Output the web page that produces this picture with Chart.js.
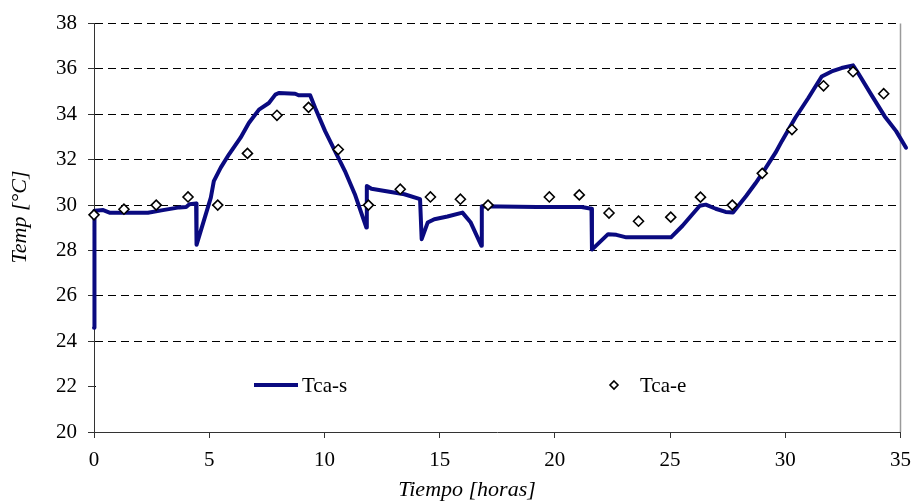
<!DOCTYPE html>
<html>
<head>
<meta charset="utf-8">
<script src="https://cdn.jsdelivr.net/npm/chart.js@4/dist/chart.umd.min.js"></script>
<style>
  html, body { margin: 0; padding: 0; background: #ffffff; }
  #wrap { width: 921px; height: 502px; position: relative; }
</style>
</head>
<body>
<div id="wrap"><canvas id="c" width="921" height="502"></canvas></div>
<script>
// Tca-s: simulated outlet temperature (continuous trace)
const hoursS = [0, 0.02, 0.4, 0.7, 2.34, 2.99, 3.7, 4.0, 4.14, 4.43, 4.45, 5.07, 5.2, 5.5, 5.86, 6.36, 6.72, 7.16, 7.59, 7.87, 8.02, 8.73, 8.88, 9.38, 9.6, 10.03, 10.46, 10.89, 11.32, 11.82, 11.84, 12.04, 13.47, 14.15, 14.22, 14.48, 14.77, 15.34, 15.99, 16.35, 16.81, 16.83, 19.22, 21.16, 21.59, 21.61, 22.31, 22.67, 23.1, 25.04, 25.54, 25.97, 26.29, 26.55, 26.98, 27.41, 27.73, 28.3, 28.7, 29.0, 29.57, 29.85, 30.43, 31.0, 31.58, 32.01, 32.44, 32.94, 33.16, 33.73, 34.31, 34.81, 35.24];
const tempS  = [24.6, 29.75, 29.78, 29.66, 29.66, 29.78, 29.9, 29.92, 30.04, 30.07, 28.25, 30.33, 31.06, 31.65, 32.24, 32.97, 33.62, 34.21, 34.5, 34.87, 34.94, 34.91, 34.84, 34.84, 34.28, 33.26, 32.38, 31.5, 30.48, 29.01, 30.84, 30.72, 30.48, 30.26, 28.5, 29.23, 29.38, 29.5, 29.67, 29.23, 28.21, 29.95, 29.92, 29.92, 29.84, 28.04, 28.72, 28.69, 28.58, 28.58, 29.09, 29.6, 29.97, 30.02, 29.84, 29.7, 29.67, 30.4, 30.95, 31.4, 32.3, 32.82, 33.84, 34.72, 35.67, 35.89, 36.04, 36.16, 35.82, 34.87, 33.92, 33.26, 32.53];

// Tca-e: measured values (markers)
const hoursE = [0, 1.3, 2.7, 4.08, 5.37, 6.66, 7.94, 9.31, 10.6, 11.91, 13.29, 14.6, 15.9, 17.1, 19.76, 21.06, 22.35, 23.63, 25.03, 26.32, 27.7, 29.0, 30.29, 31.66, 32.94, 34.27];
const tempE  = [29.57, 29.82, 30.0, 30.36, 30.0, 32.28, 33.96, 34.31, 32.45, 30.0, 30.7, 30.36, 30.26, 30.0, 30.36, 30.45, 29.65, 29.29, 29.47, 30.35, 30.0, 31.4, 33.33, 35.26, 35.88, 34.91];

const seriesNames = ['Tca-s', 'Tca-e'];
const xTitle = 'Tiempo [horas]';
const yTitle = 'Temp [\u00B0C]';

const SERIF = '"Liberation Serif", "Times New Roman", serif';
const NAVY = '#0a0a80';

const lineData = hoursS.map((h, i) => ({ x: h, y: tempS[i] }));
const markData = hoursE.map((h, i) => ({ x: h, y: tempE[i] }));

// Axis titles, right frame edge and the in-plot legend
const decorations = {
  id: 'decorations',
  beforeDatasetsDraw(chart) {
    const { ctx, chartArea: a } = chart;
    ctx.save();
    // legend box background hides the grid line behind it
    ctx.fillStyle = '#fff';
    ctx.fillRect(a.left + 2, 372, a.right - a.left - 4, 27);
    ctx.strokeStyle = '#9a9a9a';
    ctx.lineWidth = 1.5;
    ctx.beginPath();
    ctx.moveTo(a.right, a.top);
    ctx.lineTo(a.right, a.bottom);
    ctx.stroke();
    ctx.restore();
  },
  afterDraw(chart) {
    const { ctx } = chart;
    ctx.save();
    ctx.fillStyle = '#000';
    ctx.font = 'italic 22px ' + SERIF;
    ctx.textAlign = 'center';
    ctx.textBaseline = 'middle';
    ctx.fillText(xTitle, 467, 490);
    ctx.translate(20, 217);
    ctx.rotate(-Math.PI / 2);
    ctx.fillText(yTitle, 0, 0);
    ctx.restore();

    // legend
    const ly = 385;
    ctx.save();
    ctx.strokeStyle = NAVY;
    ctx.lineWidth = 4;
    ctx.beginPath();
    ctx.moveTo(254, ly);
    ctx.lineTo(298, ly);
    ctx.stroke();
    ctx.fillStyle = '#000';
    ctx.font = '21px ' + SERIF;
    ctx.textAlign = 'left';
    ctx.textBaseline = 'middle';
    ctx.fillText(seriesNames[0], 302, ly + 1);
    ctx.beginPath();
    ctx.moveTo(614, ly - 4);
    ctx.lineTo(618, ly);
    ctx.lineTo(614, ly + 4);
    ctx.lineTo(610, ly);
    ctx.closePath();
    ctx.fillStyle = '#fff';
    ctx.fill();
    ctx.lineWidth = 1.6;
    ctx.strokeStyle = '#000';
    ctx.stroke();
    ctx.fillStyle = '#000';
    ctx.fillText(seriesNames[1], 640, ly + 1);
    ctx.restore();
  }
};

new Chart(document.getElementById('c'), {
  type: 'scatter',
  data: {
    datasets: [
      {
        label: seriesNames[0],
        data: lineData,
        showLine: true,
        borderColor: NAVY,
        backgroundColor: NAVY,
        borderWidth: 4,
        pointRadius: 0,
        tension: 0,
        borderJoinStyle: 'round',
        borderCapStyle: 'round',
        clip: false,
        order: 2
      },
      {
        label: seriesNames[1],
        data: markData,
        showLine: false,
        pointStyle: 'rectRot',
        pointRadius: 5,
        pointBorderWidth: 1.6,
        pointBorderColor: '#000',
        pointBackgroundColor: '#fff',
        clip: false,
        order: 1
      }
    ]
  },
  options: {
    responsive: false,
    animation: false,
    devicePixelRatio: 1,
    layout: { padding: { left: 0, right: 16, top: 22, bottom: 0 } },
    plugins: { legend: { display: false }, tooltip: { enabled: false } },
    scales: {
      x: {
        type: 'linear',
        min: 0,
        max: 35,
        afterFit(s) { s.height = 70; },
        ticks: {
          stepSize: 5,
          padding: 10,
          color: '#000',
          font: { family: SERIF, size: 21 }
        },
        grid: {
          drawOnChartArea: false,
          drawTicks: true,
          tickLength: 6,
          tickColor: '#333',
          tickWidth: 1
        },
        border: { display: true, color: '#333', width: 1 }
      },
      y: {
        min: 20,
        max: 38,
        afterFit(s) { s.width = 94; },
        ticks: {
          stepSize: 2,
          padding: 11,
          color: '#000',
          font: { family: SERIF, size: 21 }
        },
        grid: {
          color: '#000',
          lineWidth: 1,
          drawTicks: true,
          tickLength: 6,
          tickColor: '#333',
          tickWidth: 1,
          tickBorderDash: []
        },
        border: { display: true, color: '#333', width: 1, dash: [8, 5] }
      }
    }
  },
  plugins: [decorations]
});
</script>
</body>
</html>
